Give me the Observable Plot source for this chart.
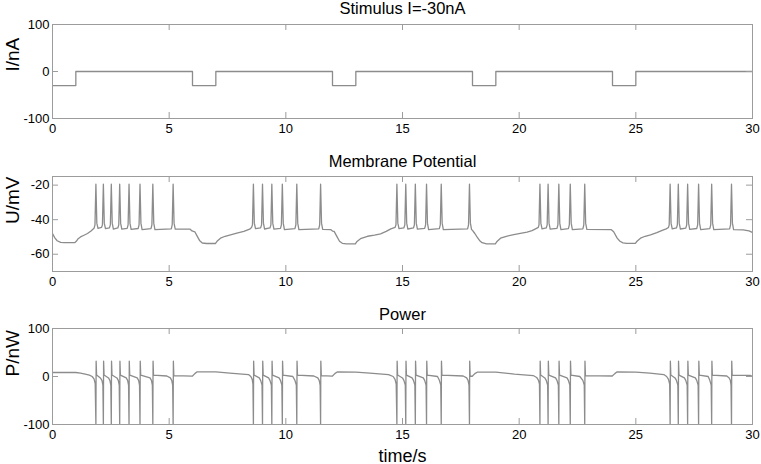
<!DOCTYPE html>
<html>
<head>
<meta charset="utf-8">
<script src="https://cdn.jsdelivr.net/npm/d3@7"></script>
<script src="https://cdn.jsdelivr.net/npm/@observablehq/plot@0.6"></script>
<style>
  html, body { margin: 0; padding: 0; background: #fff; }
  #chart { position: relative; width: 761px; height: 464px; overflow: hidden; }
  #chart svg { position: absolute; left: 0; display: block; }
</style>
</head>
<body>
<div id="chart"></div>
<script>
// ---------- data ----------
const xTicks = [0, 5, 10, 15, 20, 25, 30];
const stimTicks = [-100, 0, 100];
const membraneTicks = [-60, -40, -20];
const powerTicks = [-100, 0, 100];

const titles = ["Stimulus I=-30nA", "Membrane Potential", "Power"];
const yLabels = ["I/nA", "U/mV", "P/nW"];
const xLabel = "time/s";

// stimulus current (step-after)
const stimTimes  = [0, 1, 6, 7, 12, 13, 18, 19, 24, 25, 30];
const stimValues = [-30, 0, -30, 0, -30, 0, -30, 0, -30, 0, 0];

// membrane potential samples [t (s), U (mV)]
const membraneSamples = [
  [0,-48],[0.1,-50.5],[0.2,-52.2],[0.35,-53.1],[0.5,-53.3],[0.95,-53.3],[1.02,-52.5],[1.1,-51],[1.2,-50],[1.35,-49],[1.5,-48],[1.65,-46.5],[1.78,-45],
  [1.82,-43],[1.86,-19.5],[1.90,-42],[1.95,-45],[2.10,-44.5],[2.14,-43],
  [2.18,-19.5],[2.22,-42],[2.27,-45.2],[2.44,-44.7],[2.48,-43],
  [2.52,-19.5],[2.56,-42],[2.61,-45.4],[2.80,-44.8],[2.84,-43],
  [2.88,-19.5],[2.92,-42],[2.97,-45.5],[3.20,-45],[3.24,-43],
  [3.28,-19.5],[3.32,-42],[3.37,-45.6],[3.67,-45.1],[3.71,-43],
  [3.75,-19.5],[3.79,-42],[3.84,-45.7],[4.22,-45.2],[4.26,-43],
  [4.30,-19.5],[4.34,-42],[4.39,-45.8],[5.09,-45.3],[5.13,-43],
  [5.17,-19.5],[5.21,-42],[5.26,-45.5],
  [5.9,-45.5],[5.98,-46.5],[6.1,-47],[6.2,-49.5],[6.3,-52],[6.42,-53.5],[6.6,-53.8],[6.98,-53.8],[7.05,-52.5],[7.2,-50.7],[7.4,-49.6],[7.63,-48.8],[7.9,-47.8],[8.2,-46.8],[8.45,-45.5],[8.53,-44.5],
  [8.57,-43],[8.61,-19.5],[8.65,-42],[8.70,-45.2],[8.92,-44.7],[8.96,-43],
  [9.00,-19.5],[9.04,-42],[9.09,-45.4],[9.32,-44.8],[9.36,-43],
  [9.40,-19.5],[9.44,-42],[9.49,-45.5],[9.77,-45],[9.81,-43],
  [9.85,-19.5],[9.89,-42],[9.94,-45.7],[10.39,-45.2],[10.43,-43],
  [10.47,-19.5],[10.51,-42],[10.56,-45.8],[11.41,-45.3],[11.45,-43],
  [11.49,-19.5],[11.53,-42],[11.58,-45.6],
  [11.92,-45.7],[12.0,-46.6],[12.07,-46.8],[12.18,-49.5],[12.3,-52.5],[12.42,-53.7],[12.6,-54],[12.98,-54],[13.05,-52.6],[13.2,-51],[13.5,-49.6],[13.8,-48.9],[14.06,-48.2],[14.3,-46.8],[14.5,-45.3],[14.68,-44.5],
  [14.72,-43],[14.76,-19.5],[14.80,-42],[14.85,-45.2],[15.06,-44.7],[15.10,-43],
  [15.14,-19.5],[15.18,-42],[15.23,-45.4],[15.47,-44.8],[15.51,-43],
  [15.55,-19.5],[15.59,-42],[15.64,-45.5],[15.95,-45],[15.99,-43],
  [16.03,-19.5],[16.07,-42],[16.12,-45.7],[16.58,-45.2],[16.62,-43],
  [16.66,-19.5],[16.70,-42],[16.75,-45.8],[17.79,-45.3],[17.83,-43],
  [17.87,-19.5],[17.91,-42],[17.96,-45.7],
  [18.0,-46.2],[18.1,-48],[18.2,-50.1],[18.3,-52],[18.41,-53.3],[18.6,-54],[18.98,-54],[19.05,-52.6],[19.2,-50.7],[19.45,-49.6],[19.77,-48.6],[20.05,-47.9],[20.34,-47.2],[20.55,-46.3],[20.7,-45.3],[20.82,-44.5],
  [20.85,-43],[20.89,-19.5],[20.93,-42],[20.98,-45.3],[21.16,-44.8],[21.20,-43],
  [21.24,-19.5],[21.28,-42],[21.33,-45.5],[21.62,-45],[21.66,-43],
  [21.70,-19.5],[21.74,-42],[21.79,-45.7],[22.11,-45.2],[22.15,-43],
  [22.19,-19.5],[22.23,-42],[22.28,-45.8],[22.73,-45.3],[22.77,-43],
  [22.81,-19.5],[22.85,-42],[22.90,-45.6],
  [23.95,-45.8],[24.05,-47],[24.2,-50.7],[24.32,-52.5],[24.45,-53.4],[24.6,-53.7],[24.98,-53.7],[25.05,-52.5],[25.2,-50.7],[25.4,-49.6],[25.63,-48.8],[25.9,-47.5],[26.13,-46.2],[26.3,-45.3],[26.4,-44.5],
  [26.43,-43],[26.47,-19.5],[26.51,-42],[26.56,-45.3],[26.74,-44.8],[26.78,-43],
  [26.82,-19.5],[26.86,-42],[26.91,-45.4],[27.14,-44.9],[27.18,-43],
  [27.22,-19.5],[27.26,-42],[27.31,-45.6],[27.61,-45.1],[27.65,-43],
  [27.69,-19.5],[27.73,-42],[27.78,-45.7],[28.17,-45.2],[28.21,-43],
  [28.25,-19.5],[28.29,-42],[28.34,-45.8],[29.02,-45.3],[29.06,-43],
  [29.10,-19.5],[29.14,-42],[29.19,-45.7],
  [29.6,-45.9],[29.85,-46.5],[30,-47.4]
];

// power samples [t (s), P (nW)]
const powerSamples = [
  [0,8.3],[1.0,8.3],[1.2,7],[1.4,5],[1.58,3],[1.7,0],[1.78,-5],[1.83,-15],
  [1.86,-100],[1.87,32],[1.89,3],[2.05,-3],[2.12,-8],[2.16,-18],
  [2.18,-100],[2.19,32],[2.21,3],[2.40,-3],[2.46,-8],[2.50,-18],
  [2.52,-100],[2.53,32],[2.55,3],[2.76,-3],[2.82,-8],[2.86,-18],
  [2.88,-100],[2.89,32],[2.91,3],[3.16,-3],[3.22,-8],[3.26,-18],
  [3.28,-100],[3.29,32],[3.31,3],[3.63,-3],[3.69,-8],[3.73,-18],
  [3.75,-100],[3.76,32],[3.78,3],[4.18,-3],[4.24,-8],[4.28,-18],
  [4.30,-100],[4.31,32],[4.33,3],[4.9,1],[5.05,-3],[5.11,-8],[5.15,-18],
  [5.17,-100],[5.18,32],[5.20,2],
  [5.99,0.7],[6.1,6],[6.2,9.7],[7.0,9.5],[7.6,7],[8.4,4],[8.5,0],[8.56,-6],[8.59,-16],
  [8.61,-100],[8.62,32],[8.64,3],[8.86,-3],[8.92,-8],[8.98,-18],
  [9.00,-100],[9.01,32],[9.03,3],[9.26,-3],[9.32,-8],[9.38,-18],
  [9.40,-100],[9.41,32],[9.43,3],[9.71,-3],[9.77,-8],[9.83,-18],
  [9.85,-100],[9.86,32],[9.88,3],[10.3,0],[10.39,-8],[10.45,-18],
  [10.47,-100],[10.48,32],[10.50,3],[11.2,1],[11.37,-3],[11.43,-8],[11.47,-18],
  [11.49,-100],[11.50,32],[11.52,2],
  [11.99,0.7],[12.1,6],[12.2,9.5],[13.0,9.3],[13.6,7],[14.4,4],[14.6,0],[14.68,-6],[14.73,-16],
  [14.76,-100],[14.77,32],[14.79,3],[15.00,-3],[15.06,-8],[15.12,-18],
  [15.14,-100],[15.15,32],[15.17,3],[15.41,-3],[15.47,-8],[15.53,-18],
  [15.55,-100],[15.56,32],[15.58,3],[15.89,-3],[15.95,-8],[16.01,-18],
  [16.03,-100],[16.04,32],[16.06,3],[16.5,0],[16.58,-8],[16.64,-18],
  [16.66,-100],[16.67,32],[16.69,3],[17.6,1],[17.75,-3],[17.81,-8],[17.85,-18],
  [17.87,-100],[17.88,32],[17.90,1],
  [17.99,0.5],[18.1,6],[18.2,9],[19.0,9],[19.8,5],[20.6,2],[20.75,-2],[20.83,-8],[20.87,-16],
  [20.89,-100],[20.90,32],[20.92,3],[21.10,-3],[21.16,-8],[21.22,-18],
  [21.24,-100],[21.25,32],[21.27,3],[21.56,-3],[21.62,-8],[21.68,-18],
  [21.70,-100],[21.71,32],[21.73,3],[22.05,-3],[22.11,-8],[22.17,-18],
  [22.19,-100],[22.20,32],[22.22,3],[22.6,0],[22.73,-8],[22.79,-18],
  [22.81,-100],[22.82,32],[22.84,2],
  [23.99,1],[24.1,6],[24.2,9.7],[25.0,9.3],[25.6,7],[26.2,4],[26.32,0],[26.40,-6],[26.45,-16],
  [26.47,-100],[26.48,32],[26.50,3],[26.68,-3],[26.74,-8],[26.80,-18],
  [26.82,-100],[26.83,32],[26.85,3],[27.08,-3],[27.14,-8],[27.20,-18],
  [27.22,-100],[27.23,32],[27.25,3],[27.55,-3],[27.61,-8],[27.67,-18],
  [27.69,-100],[27.70,32],[27.72,3],[28.1,0],[28.17,-8],[28.23,-18],
  [28.25,-100],[28.26,32],[28.28,3],[28.9,1],[29.0,-3],[29.05,-8],[29.08,-18],
  [29.10,-100],[29.11,32],[29.13,2.8],
  [29.9,2.5],[30,0]
];

// ---------- drawing ----------
const FONT = "'Liberation Sans', Arial, Helvetica, sans-serif";
const FRAME = "#9c9c9c";
const TRACE = "#8c8c8c";
const W = 761, ML = 52, MR = 9;
const plotW = W - ML - MR;
const TICK = 6;

function panel({data, x, y, curve, yDomain, yTicks, top, height, marginTop, marginBottom, title, titleDy, yLabel, extra = []}) {
  const fh = height - marginTop - marginBottom;
  const svg = Plot.plot({
    width: W, height, marginLeft: ML, marginRight: MR, marginTop, marginBottom,
    x: {domain: [0, 30]},
    y: {domain: yDomain},
    style: {fontFamily: FONT, fontSize: "13px", color: "#000", background: "transparent", overflow: "visible"},
    marks: [
      Plot.line(data, {x, y, curve, stroke: TRACE, strokeWidth: 1.3, clip: true}),
      Plot.frame({stroke: FRAME, strokeWidth: 1}),
      Plot.tickX(xTicks, {x: d => d, insetTop: fh - TICK, stroke: FRAME}),
      Plot.tickX(xTicks, {x: d => d, insetBottom: fh - TICK, stroke: FRAME}),
      Plot.tickY(yTicks, {y: d => d, insetRight: plotW - TICK, stroke: FRAME}),
      Plot.tickY(yTicks, {y: d => d, insetLeft: plotW - TICK, stroke: FRAME}),
      Plot.axisX(xTicks, {tickSize: 0, tickPadding: 5, label: null, fontSize: 13, tickFormat: d => String(d)}),
      Plot.axisY(yTicks, {tickSize: 0, tickPadding: 3, label: null, fontSize: 13, tickFormat: d => String(d)}),
      Plot.text([title], {frameAnchor: "top", dy: titleDy, lineAnchor: "bottom", fontSize: 16.5, fill: "#000"}),
      Plot.text([yLabel], {frameAnchor: "left", dx: -40, rotate: -90, fontSize: 19, fill: "#000"}),
      ...extra
    ]
  });
  svg.style.top = top + "px";
  return svg;
}

const stimData = stimTimes.map((t, i) => ({t, v: stimValues[i]}));
const chart = document.getElementById("chart");

chart.appendChild(panel({
  data: stimData, x: "t", y: "v", curve: "step-after",
  yDomain: [-100, 100], yTicks: stimTicks,
  top: 0, height: 145, marginTop: 24, marginBottom: 27,
  title: titles[0], titleDy: -11, yLabel: yLabels[0]
}));

chart.appendChild(panel({
  data: membraneSamples, x: d => d[0], y: d => d[1], curve: "linear",
  yDomain: [-70, -15], yTicks: membraneTicks,
  top: 145, height: 155, marginTop: 31, marginBottom: 29,
  title: titles[1], titleDy: -10, yLabel: yLabels[1]
}));

chart.appendChild(panel({
  data: powerSamples, x: d => d[0], y: d => d[1], curve: "linear",
  yDomain: [-100, 100], yTicks: powerTicks,
  top: 300, height: 164, marginTop: 28, marginBottom: 40,
  title: titles[2], titleDy: -9, yLabel: yLabels[2],
  extra: [Plot.text([xLabel], {frameAnchor: "bottom", dy: 37, lineAnchor: "bottom", fontSize: 18, fill: "#000"})]
}));
</script>
</body>
</html>
